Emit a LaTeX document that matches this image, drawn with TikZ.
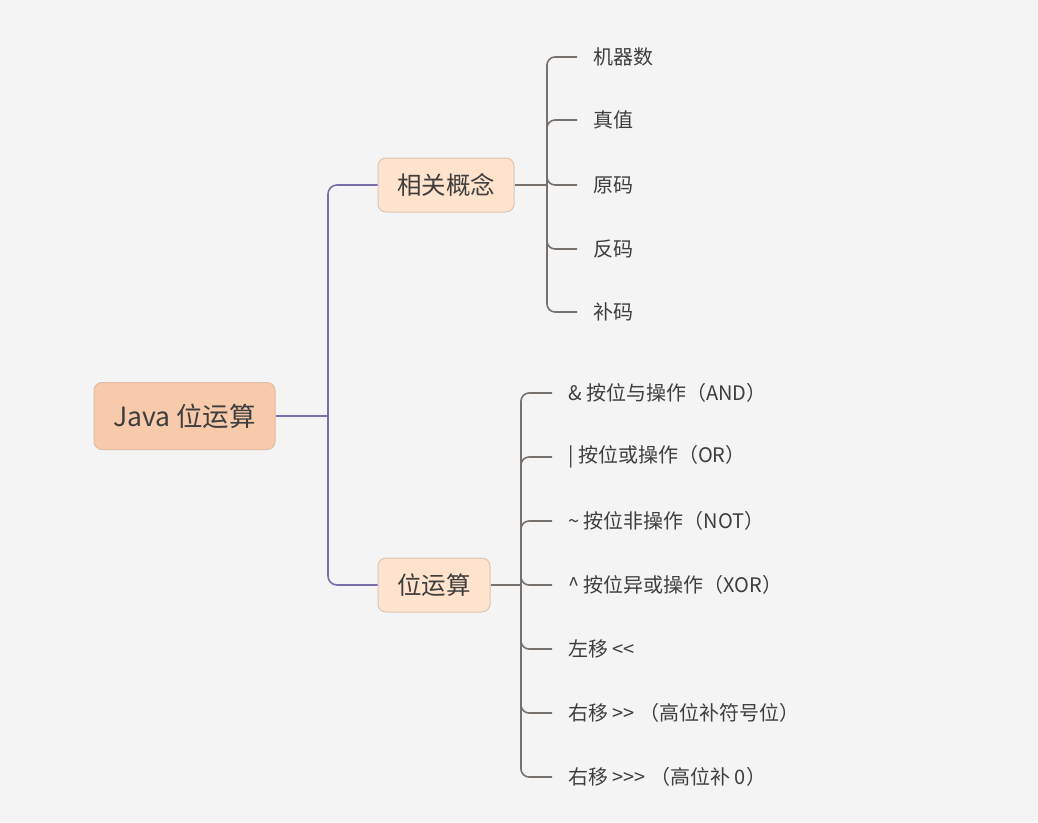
\documentclass[tikz,border=0pt]{standalone}
\usepackage{fontspec}
\newfontfamily\cjk{Noto Sans CJK SC}
\definecolor{bg}{HTML}{F4F4F4}
\definecolor{rootfill}{HTML}{F7CAAB}
\definecolor{rootdraw}{HTML}{DDBCA8}
\definecolor{subfill}{HTML}{FFE3CD}
\definecolor{subdraw}{HTML}{DCC4B3}
\definecolor{txt}{HTML}{3E3E3E}
\definecolor{purp}{HTML}{7A6DA8}
\definecolor{gline}{HTML}{77716D}
\tikzset{
  rootbox/.style={draw=rootdraw, fill=rootfill, line width=1pt, rounded corners=8pt, minimum width=181pt, minimum height=67pt, text=txt, font=\cjk\fontsize{26.5}{31}\selectfont, inner sep=0pt},
  subbox/.style={draw=subdraw, fill=subfill, line width=1pt, rounded corners=8pt, minimum height=54pt, text=txt, font=\cjk\fontsize{24.5}{29}\selectfont, inner sep=0pt},
  leaf/.style={anchor=west, inner sep=0pt, text=txt, font=\cjk\fontsize{20}{24}\selectfont},
  pline/.style={draw=purp, line width=1.6pt},
  gl/.style={draw=gline, line width=1.6pt},
}
\begin{document}
\begin{tikzpicture}[x=1pt,y=-1pt]
\fill[bg] (0,0) rectangle (1038,822);
\useasboundingbox (0,0) rectangle (1038,822);

\node[rootbox] (root) at (184.5,416) {Java 位运算};
\node[subbox, minimum width=136pt] (c) at (446,185) {相关概念};
\node[subbox, minimum width=112pt] (b) at (434,585) {位运算};

% root connectors
\coordinate (rj) at (328,416);
\draw[pline] (root.east) -- (rj);
\draw[pline, rounded corners=9pt] (rj) |- (c.west);
\draw[pline, rounded corners=9pt] (rj) |- (b.west);

% concept leaves
\node[leaf] (c1) at (593,57) {机器数};
\node[leaf] (c2) at (593,120) {真值};
\node[leaf] (c3) at (593,185) {原码};
\node[leaf] (c4) at (593,249) {反码};
\node[leaf] (c5) at (593,312) {补码};
\coordinate (cj) at (547,185);
\draw[gl] (c.east) -- (cj);
\foreach \n in {c1,c2,c3,c4,c5}{
  \draw[gl, rounded corners=8pt] (cj) |- ([xshift=-16pt]\n.west);
}

% bit op leaves
\node[leaf] (b1) at (568,393) {\& 按位与操作（AND）};
\node[leaf] (b2) at (568,457) {| 按位或操作（OR）};
\node[leaf] (b3) at (568,521) {\textasciitilde{} 按位非操作（NOT）};
\node[leaf] (b4) at (568,585) {\textasciicircum{} 按位异或操作（XOR）};
\node[leaf] (b5) at (568,649) {左移 <{}<};
\node[leaf] (b6) at (568,713) {右移 >{}> （高位补符号位）};
\node[leaf] (b7) at (568,777) {右移 >{}>{}> （高位补 0）};
\coordinate (bj) at (521,585);
\draw[gl] (b.east) -- (bj);
\foreach \n in {b1,b2,b3,b4,b5,b6,b7}{
  \draw[gl, rounded corners=8pt] (bj) |- ([xshift=-16pt]\n.west);
}
\end{tikzpicture}
\end{document}
